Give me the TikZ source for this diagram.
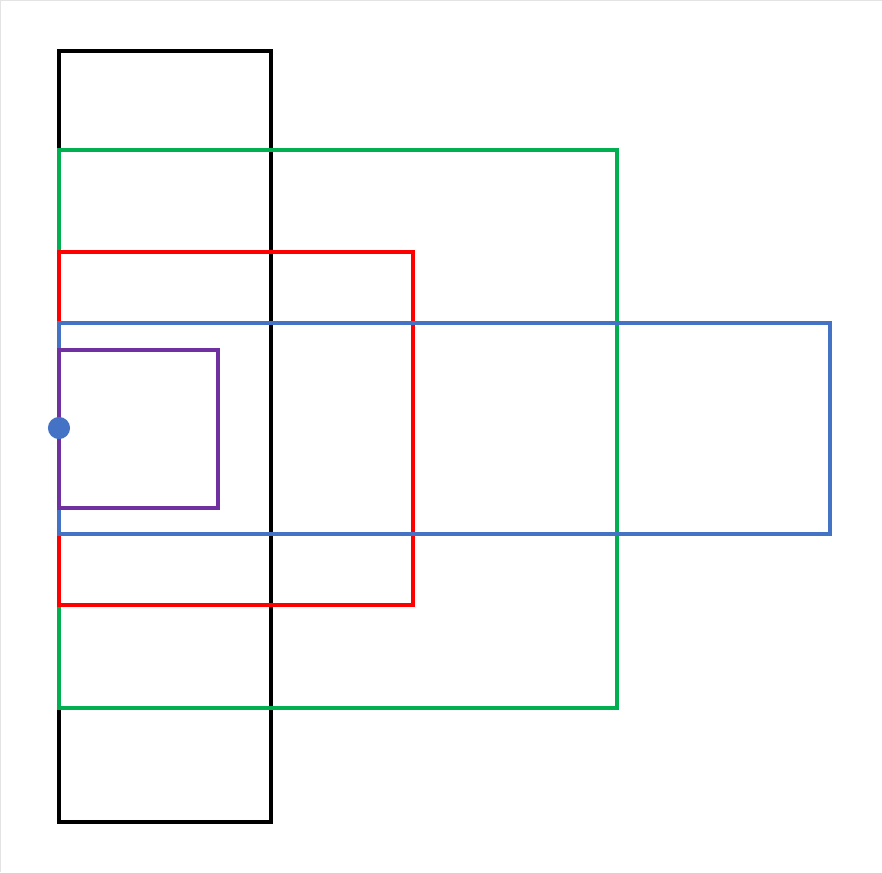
\documentclass[tikz,border=0pt]{standalone}
\usepackage{tikz}

\definecolor{boxgreen}{HTML}{00B050}
\definecolor{boxred}{HTML}{FF0000}
\definecolor{boxblue}{HTML}{4472C4}
\definecolor{boxpurple}{HTML}{7030A0}
\definecolor{framegray}{HTML}{E3E3E3}

\begin{document}
\begin{tikzpicture}[x=0.75pt,y=-0.75pt,
	box/.style={line width=2.5pt},
	mark dot/.style={fill=boxblue}]

	% ---- canvas

	\useasboundingbox (0,0) rectangle (882,872);
	\draw[framegray, line width=1pt] (0.6,872) -- (0.6,0.6) -- (882,0.6);

	% ---- parameters

	\def\leftx{59}
	\def\midy{428}

	% ---- rectangles

	\draw[box, black, line width=3pt] (\leftx,51) rectangle (271,822);
	\draw[box, boxgreen] (\leftx,150) rectangle (617,708);
	\draw[box, boxred] (\leftx,252) rectangle (413,605);
	\draw[box, boxblue] (\leftx,323) rectangle (830,534);
	\draw[box, boxpurple] (\leftx,350) rectangle (218,508);

	% ---- point on the common edge

	\coordinate (P) at (\leftx,\midy);
	\fill[mark dot] (P) circle (8.3pt);

\end{tikzpicture}
\end{document}
